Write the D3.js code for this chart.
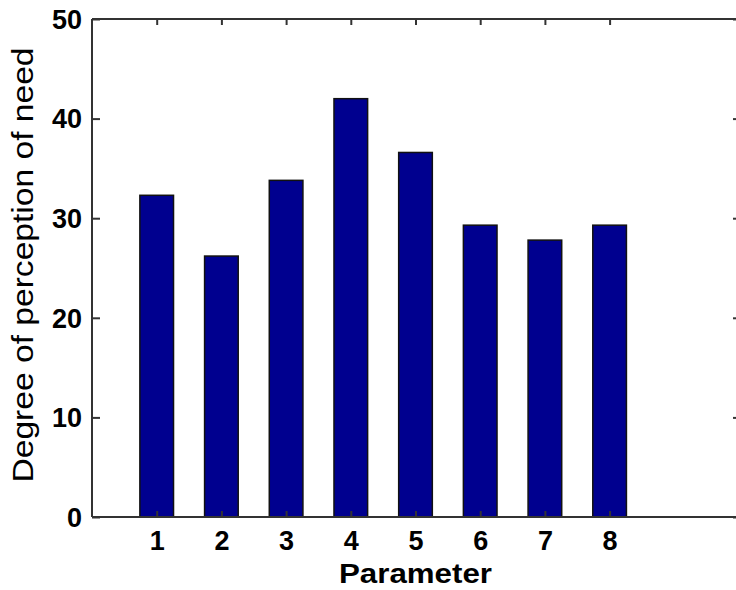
<!DOCTYPE html>
<html><head><meta charset="utf-8">
<script src="https://cdn.jsdelivr.net/npm/d3@7"></script>
<style>body{margin:0;background:#fff}svg{display:block}</style>
</head><body>
<script>
const categories = [1, 2, 3, 4, 5, 6, 7, 8];
const values = [32.3, 26.2, 33.8, 42.0, 36.6, 29.3, 27.8, 29.3];
const yTicks = [0, 10, 20, 30, 40, 50];
const xLabel = "Parameter";
const yLabel = "Degree of perception of need";

const W = 736, H = 590;
const mLeft = 92, mRight = 739, mTop = 19, mBottom = 517;
const svg = d3.select("body").append("svg").attr("width", W).attr("height", H);
const x = d3.scaleLinear().domain([0, 10]).range([mLeft, mRight]);
const y = d3.scaleLinear().domain([0, 50]).range([mBottom, mTop]);
const font = "'Liberation Sans', Arial, sans-serif";
const barW = 0.52;

svg.append("g").selectAll("rect").data(values).join("rect")
  .attr("x", (d, i) => x(categories[i] - barW / 2))
  .attr("width", x(barW) - x(0))
  .attr("y", d => y(d))
  .attr("height", d => y(0) - y(d))
  .attr("fill", "#00008f")
  .attr("stroke", "#111")
  .attr("stroke-width", 1.5);

const axCol = "#333";
const gB = svg.append("g").attr("transform", `translate(0,${mBottom})`)
  .call(d3.axisBottom(x).tickValues(categories).tickSize(0).tickPadding(14).tickFormat(d3.format("d")));
const gT = svg.append("g").attr("transform", `translate(0,${mTop})`)
  .call(d3.axisBottom(x).tickValues(categories).tickSize(6).tickFormat(""));
const gL = svg.append("g").attr("transform", `translate(${mLeft},0)`)
  .call(d3.axisRight(y).tickValues(yTicks).tickSize(8).tickFormat(""));
const gR = svg.append("g").attr("transform", `translate(${mRight},0)`)
  .call(d3.axisLeft(y).tickValues(yTicks).tickSize(6).tickFormat(""));
svg.append("g").selectAll("text").data(yTicks).join("text")
  .attr("x", 82).attr("y", d => y(d)).attr("dy", "0.36em")
  .attr("text-anchor", "end").attr("font-family", font).attr("font-weight", "bold")
  .attr("font-size", 27).attr("fill", "#000").text(d => d);
svg.append("g").attr("transform", `translate(0,${mBottom})`)
  .call(d3.axisTop(x).tickValues(categories).tickSize(6).tickFormat(""))
  .call(g => g.select(".domain").remove());

[gB, gT, gL, gR].forEach(g => {
  g.select(".domain").attr("stroke", axCol).attr("stroke-width", 2);
});
svg.selectAll(".tick line").attr("stroke", axCol).attr("stroke-width", 2);
gB.selectAll(".tick text").attr("font-family", font).attr("font-weight", "bold")
  .attr("font-size", 27).attr("fill", "#000");
gB.select(".domain").attr("d", `M${mLeft},0H${mRight}`);
gT.select(".domain").attr("d", `M${mLeft},0H${mRight}`);
gL.select(".domain").attr("d", `M0,${mBottom}V${mTop}`);
gR.select(".domain").attr("d", `M0,${mBottom}V${mTop}`);

svg.append("text").attr("x", (mLeft + mRight) / 2).attr("y", 583)
  .attr("text-anchor", "middle").attr("font-family", font).attr("font-weight", "bold")
  .attr("font-size", 27).attr("textLength", 153).attr("lengthAdjust", "spacingAndGlyphs")
  .text(xLabel);
svg.append("text").attr("transform", "translate(33,265) rotate(-90)")
  .attr("text-anchor", "middle").attr("font-family", font)
  .attr("font-size", 29).attr("textLength", 435).attr("lengthAdjust", "spacingAndGlyphs")
  .text(yLabel);
</script>
</body></html>
